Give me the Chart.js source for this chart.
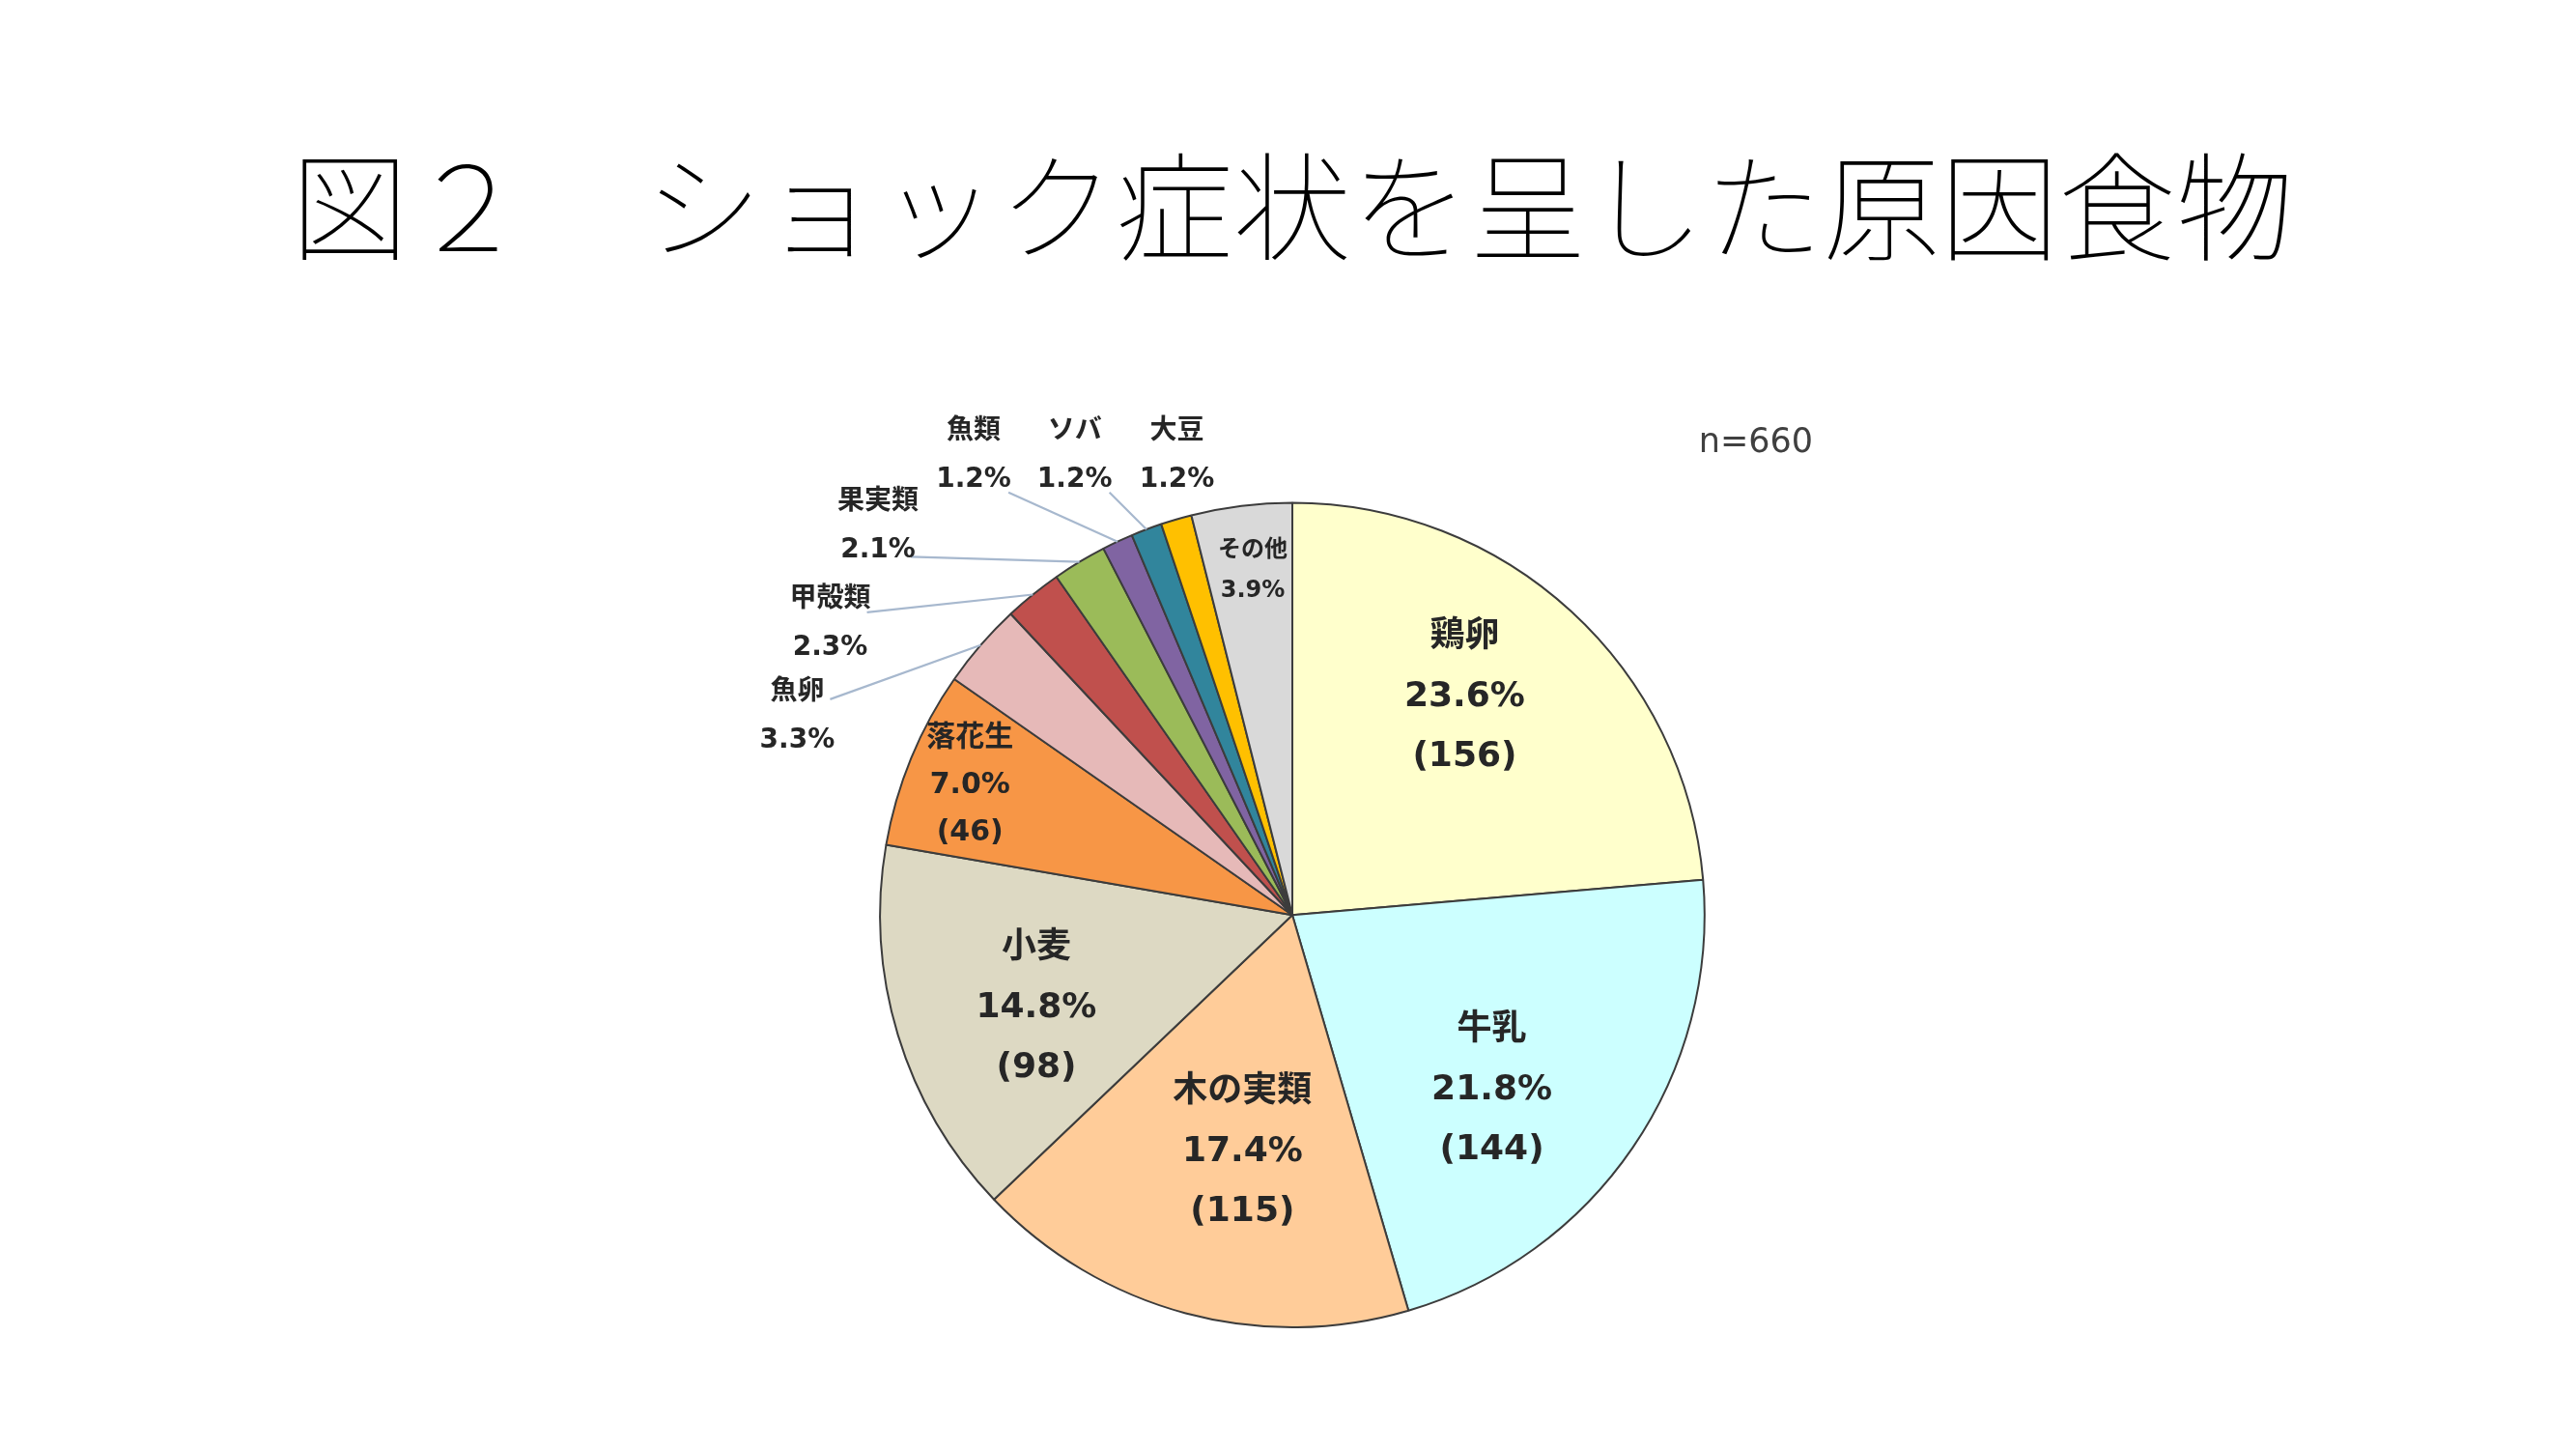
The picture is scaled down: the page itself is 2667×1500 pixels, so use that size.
<!DOCTYPE html>
<html>
<head>
<meta charset="utf-8">
<script src="https://cdn.jsdelivr.net/npm/chart.js@4/dist/chart.umd.min.js"></script>
<style>
  html, body { margin: 0; padding: 0; background: #ffffff; }
  canvas { display: block; }
</style>
</head>
<body>
<canvas id="c" width="2667" height="1500"></canvas>
<script>
// ---- data ----
const titleText = '図２　ショック症状を呈した原因食物';
const categories = ['鶏卵', '牛乳', '木の実類', '小麦', '落花生', '魚卵', '甲殻類', '果実類', '魚類', 'ソバ', '大豆', 'その他'];
const counts = [156, 144, 115, 98, 46, 22, 15, 14, 8, 8, 8, 26];
const sampleLabel = 'n=660';

// ---- style ----
const sliceColors = ['#FFFFCC', '#CCFFFF', '#FFCC99', '#DDD9C3', '#F79646', '#E6B9B8',
                     '#C0504D', '#9BBB59', '#8064A2', '#31859C', '#FFC000', '#D9D9D9'];
// label kind: 'big' / 'mid' (name, %, count) inside; 'out' (name, %) outside; 'small' (name, %) inside
const labelKind = ['big', 'big', 'big', 'big', 'mid', 'out', 'out', 'out', 'out', 'out', 'out', 'small'];
// label block centre relative to pie centre, in units of radius
const labelPos = [
  [0.418, -0.528], [0.484, 0.425], [-0.121, 0.575], [-0.621, 0.227], [-0.782, -0.315],
  [-1.201, -0.481], [-1.121, -0.706], [-1.005, -0.944], [-0.773, -1.114], [-0.528, -1.114],
  [-0.280, -1.114], [-0.096, -0.834]
];
// leader line start offset from label centre (px), null = no leader
const leaderStart = [null, null, null, null, null,
  [34, -18], [38, -12], [34, 32], [36, 38], [36, 38], null, null];

const FONT = "'DejaVu Sans', 'Noto Sans CJK JP', sans-serif";

const total = counts.reduce((a, b) => a + b, 0);

const labelPlugin = {
  id: 'sliceLabels',
  afterDatasetsDraw(chart) {
    const ctx = chart.ctx;
    const meta = chart.getDatasetMeta(0);
    const first = meta.data[0];
    const cx = first.x, cy = first.y, R = first.outerRadius;
    ctx.save();
    // leader lines
    ctx.strokeStyle = '#A7B8CE';
    ctx.lineWidth = 2.2;
    meta.data.forEach((arc, i) => {
      if (!leaderStart[i]) return;
      const mid = (arc.startAngle + arc.endAngle) / 2;
      const ex = cx + Math.cos(mid) * R;
      const ey = cy + Math.sin(mid) * R;
      const lx = cx + labelPos[i][0] * R + leaderStart[i][0];
      const ly = cy + labelPos[i][1] * R + leaderStart[i][1];
      ctx.beginPath();
      ctx.moveTo(lx, ly);
      ctx.lineTo(ex, ey);
      ctx.stroke();
    });
    // text
    ctx.textAlign = 'center';
    ctx.textBaseline = 'middle';
    ctx.fillStyle = '#262626';
    meta.data.forEach((arc, i) => {
      const v = counts[i];
      const pct = (v / total * 100).toFixed(1) + '%';
      const x = cx + labelPos[i][0] * R;
      const y = cy + labelPos[i][1] * R;
      let lines, size, gap;
      if (labelKind[i] === 'big') {
        lines = [categories[i], pct, '(' + v + ')']; size = 36; gap = 62;
      } else if (labelKind[i] === 'mid') {
        lines = [categories[i], pct, '(' + v + ')']; size = 30; gap = 49;
      } else if (labelKind[i] === 'out') {
        lines = [categories[i], pct]; size = 28; gap = 50;
      } else {
        lines = [categories[i], pct]; size = 24; gap = 42;
      }
      ctx.font = 'bold ' + size + 'px ' + FONT;
      const y0 = y - gap * (lines.length - 1) / 2;
      lines.forEach((t, k) => ctx.fillText(t, x, y0 + k * gap));
    });
    // n label
    ctx.font = '35px ' + FONT;
    ctx.fillStyle = '#404040';
    ctx.textAlign = 'left';
    ctx.fillText(sampleLabel, cx + 0.986 * R, cy - 1.145 * R);
    ctx.restore();
  }
};

new Chart(document.getElementById('c'), {
  type: 'pie',
  data: {
    labels: categories,
    datasets: [{
      data: counts,
      backgroundColor: sliceColors,
      borderColor: '#3C3C3C',
      borderWidth: 2
    }]
  },
  options: {
    responsive: false,
    animation: false,
    devicePixelRatio: 1,
    layout: { padding: { top: 0, left: 9, right: 0, bottom: 125 } },
    plugins: {
      legend: { display: false },
      tooltip: { enabled: false },
      title: {
        display: true,
        text: titleText,
        color: '#000000',
        font: { family: "'Noto Sans CJK JP', sans-serif", size: 122, weight: 100, lineHeight: 1.2 },
        padding: { top: 140, bottom: 233 }
      }
    }
  },
  plugins: [labelPlugin]
});
</script>
</body>
</html>
